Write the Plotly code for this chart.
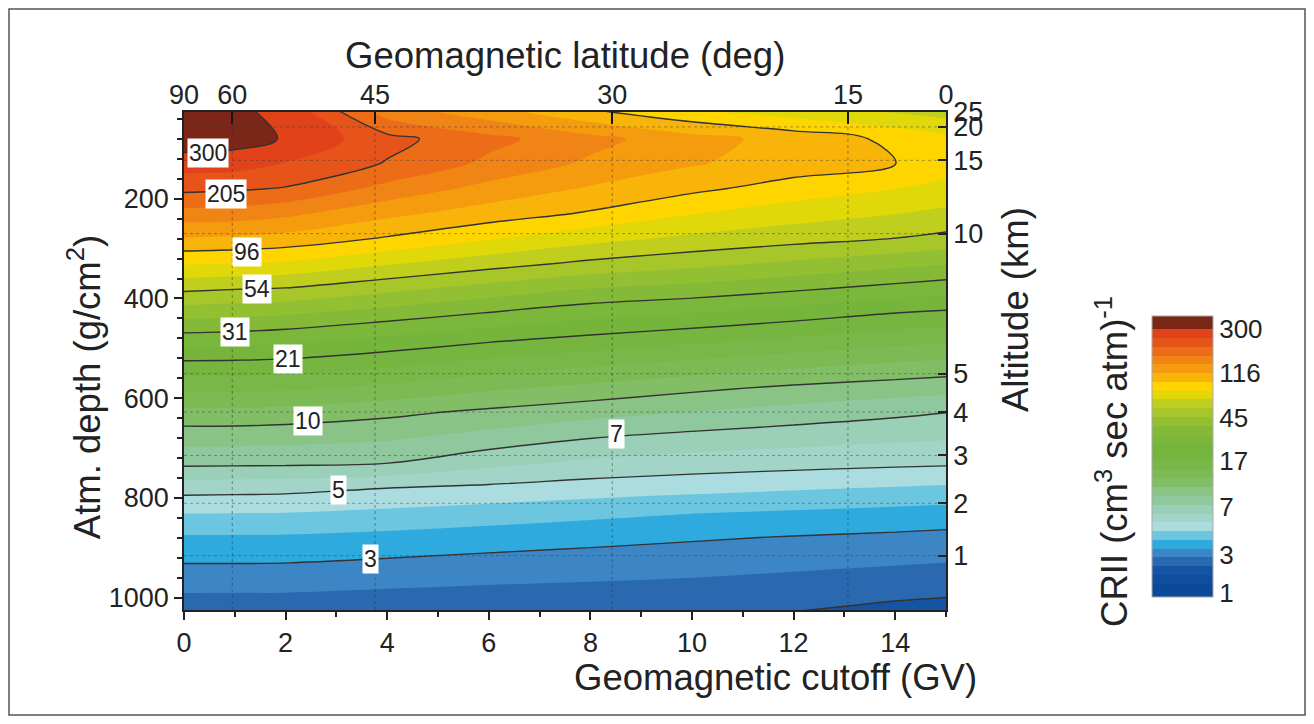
import numpy as np
import plotly.graph_objects as go

# ---------------- data ----------------
cutoff_gv = [0, 1, 2, 4, 6, 8, 10, 12, 14, 15]
depth_gcm2 = [25, 80, 130, 180, 230, 280, 330, 380, 430, 480, 530,
              580, 630, 680, 730, 780, 830, 880, 930, 980, 1030]
crii = [
    [330, 312, 285, 155, 125, 99, 82, 72, 64, 60],
    [345, 330, 295, 218, 180, 150, 125, 108, 92, 84],
    [270, 268, 245, 202, 163, 136, 118, 106, 96.5, 88],
    [215, 210, 202, 160, 132, 113.5, 100, 88.5, 79.5, 74],
    [158, 156, 147, 122, 106, 93.8, 80.0, 71.4, 65.5, 62.4],
    [114, 112, 108, 94.0, 80.5, 69.8, 62.5, 57.8, 53.8, 51.4],
    [80.7, 79.2, 77.1, 66.7, 58.4, 51.9, 47.8, 43.7, 39.8, 38.0],
    [56.4, 54.7, 53.6, 47.7, 42.2, 37.6, 35.2, 32.1, 29.2, 27.9],
    [40.4, 39.6, 38.4, 34.4, 30.6, 27.4, 25.5, 23.2, 20.9, 20.2],
    [28.8, 28.4, 27.5, 24.8, 22.1, 20.2, 18.6, 17.1, 15.8, 15.2],
    [20.3, 20.2, 19.9, 18.3, 16.5, 15.1, 13.9, 12.8, 11.9, 11.5],
    [15.2, 15.1, 14.9, 13.8, 12.4, 11.4, 10.4, 9.64, 9.12, 8.85],
    [11.3, 11.3, 11.1, 10.4, 9.52, 8.80, 8.20, 7.69, 7.23, 6.98],
    [8.93, 8.9, 8.81, 8.49, 7.78, 7.02, 6.61, 6.32, 6.09, 5.98],
    [7.30, 7.26, 7.23, 7.03, 6.19, 5.70, 5.47, 5.31, 5.18, 5.13],
    [5.35, 5.31, 5.27, 5.01, 4.85, 4.67, 4.52, 4.39, 4.26, 4.20],
    [4.32, 4.31, 4.30, 4.17, 4.02, 3.86, 3.72, 3.60, 3.47, 3.40],
    [3.60, 3.60, 3.59, 3.48, 3.33, 3.20, 3.07, 2.96, 2.88, 2.83],
    [3.02, 3.02, 3.01, 2.91, 2.81, 2.73, 2.66, 2.58, 2.49, 2.45],
    [2.54, 2.54, 2.54, 2.47, 2.41, 2.37, 2.32, 2.24, 2.16, 2.13],
    [2.15, 2.14, 2.13, 2.10, 2.07, 2.05, 2.025, 1.99, 1.86, 1.80],
]

# filled band levels (CRII) and the band colours between them
fill_levels = [1.0, 1.29, 1.6, 2.0, 2.45, 3.0, 3.7, 4.3, 5.0, 5.9, 7.0, 8.3,
               10, 12, 14.5, 17.4, 21, 25.7, 31, 37.6, 45.2, 54, 65.3, 79.4,
               96, 116, 141, 170, 205, 248, 300, 370]
band_colors = ["#0b4a9a", "#0f4e9e", "#1454a4", "#2a68b0", "#3d86c6", "#2faadf",
               "#6cc6e0", "#aadce0", "#a2d5c8", "#9acfb8", "#8fc89c", "#89c386",
               "#82be66", "#7cba54", "#78b748", "#75b540", "#76b53c", "#7ab73a",
               "#84ba37", "#93bf32", "#a6c62a", "#c0ce1e", "#e0d808", "#ffd500",
               "#f9b40a", "#f59c0e", "#f08414", "#ec6c18", "#e7541a", "#e2421a",
               "#7c2618"]

line_levels = [2, 3, 5, 7, 10, 21, 31, 54, 96, 205, 300]
label_text = ["300", "205", "96", "54", "31", "21", "10", "7", "5", "3"]
label_x = [0.47, 0.83, 1.24, 1.44, 1.00, 2.05, 2.44, 8.52, 3.05, 3.68]
label_y = [108, 190, 306, 382, 468, 522, 646, 672, 784, 922]

cbar_tick_vals = [1, 2.588, 6.70, 17.33, 44.8, 116.0, 300]
cbar_tick_text = ["1", "3", "7", "17", "45", "116", "300"]

lat_labels = ["90", "60", "45", "30", "15", "0"]
lat_pos_gv = [0.0, 0.95, 3.76, 8.43, 13.07, 15.0]

alt_labels = ["25", "20", "15", "10", "5", "4", "3", "2", "1"]
alt_depth = [26, 56, 123, 270, 551, 628, 715, 811, 916]

# ---------------- transform to band-index space ----------------
lv_log = np.log10(fill_levels)
idx = np.arange(len(fill_levels), dtype=float)
z = np.interp(np.log10(np.array(crii, dtype=float)), lv_log, idx)
nlev = len(fill_levels)

cs = []
for i, c in enumerate(band_colors):
    lo = 0.0 if i == 0 else (i + 0.5) / nlev
    hi = (i + 1.5) / nlev
    cs.append([lo, c])
    cs.append([hi, c])
cs.append([1.0, band_colors[-1]])

cb_ticks = np.interp(np.log10(cbar_tick_vals), lv_log, idx)

FONT = "Liberation Sans, Arial, Helvetica, sans-serif"
W, H = 1298, 708
ML, MT, PW, PH = 176, 104, 762, 498

fig = go.Figure()

fig.add_trace(go.Contour(
    x=cutoff_gv, y=depth_gcm2, z=z,
    autocontour=False,
    contours=dict(start=0, end=nlev - 1, size=1, coloring="fill", showlines=False),
    colorscale=cs, line=dict(width=0), hoverinfo="skip",
    colorbar=dict(x=1.2703, xanchor="left", y=0.308, yanchor="middle",
                  len=281, lenmode="pixels", thickness=61, thicknessmode="pixels",
                  xpad=0, ypad=0, tickvals=list(cb_ticks), ticktext=cbar_tick_text,
                  ticks="", tickfont=dict(size=26, color="#222", family=FONT),
                  outlinewidth=1, outlinecolor="#aaaaaa"),
))

for lv in line_levels:
    k = float(np.interp(np.log10(lv), lv_log, idx))
    fig.add_trace(go.Contour(
        x=cutoff_gv, y=depth_gcm2, z=z, autocontour=False,
        contours=dict(start=k, end=k, size=1, coloring="none", showlabels=False),
        line=dict(color="#333333", width=1.4), showscale=False, hoverinfo="skip",
    ))

# dummy trace to carry the top / right axes
fig.add_trace(go.Scatter(x=[None], y=[None], xaxis="x2", yaxis="y2",
                         showlegend=False, hoverinfo="skip"))

shapes = []
for p in lat_pos_gv[1:-1]:
    shapes.append(dict(type="line", xref="x", yref="paper", x0=p, x1=p, y0=0, y1=1,
                       line=dict(color="rgba(50,50,50,0.5)", width=1, dash="dot"),
                       layer="above"))
for d in alt_depth[1:]:
    shapes.append(dict(type="line", xref="paper", yref="y", x0=0, x1=1, y0=d, y1=d,
                       line=dict(color="rgba(50,50,50,0.42)", width=1, dash="dot"),
                       layer="above"))
# frame round the whole figure
shapes.append(dict(type="rect", xref="paper", yref="paper",
                   x0=(-ML + 1) / PW, x1=(W - ML - 1) / PW,
                   y0=-(H - MT - PH - 1) / PH, y1=(MT - 1) / PH + 1,
                   line=dict(color="#555555", width=1.5)))

annotations = []
for t, lx, ly in zip(label_text, label_x, label_y):
    annotations.append(dict(x=lx, y=ly, xref="x", yref="y", text=t, showarrow=False,
                            bgcolor="white", borderpad=1,
                            font=dict(size=23, color="#222", family=FONT)))
TF = dict(size=36.5, color="#222", family=FONT)
annotations += [
    dict(x=0.5, y=1.114, xref="paper", yref="paper", text="Geomagnetic latitude (deg)",
         showarrow=False, font=TF, xanchor="center", yanchor="middle"),
    dict(x=0.7756, y=-0.1365, xref="paper", yref="paper", text="Geomagnetic cutoff (GV)",
         showarrow=False, font=TF, xanchor="center", yanchor="middle"),
    dict(x=-0.131, y=0.4478, xref="paper", yref="paper", text="Atm. depth (g/cm<sup>2</sup>)",
         showarrow=False, font=TF, textangle=-90, xanchor="center", yanchor="middle"),
    dict(x=1.0906, y=0.6024, xref="paper", yref="paper", text="Altitude (km)",
         showarrow=False, font=TF, textangle=-90, xanchor="center", yanchor="middle"),
    dict(x=1.2178, y=0.2992, xref="paper", yref="paper",
         text="CRII (cm<sup>3</sup> sec atm)<sup>-1</sup>",
         showarrow=False, font=TF, textangle=-90, xanchor="center", yanchor="middle"),
]

TK = dict(size=27, color="#222", family=FONT)
fig.update_layout(
    width=W, height=H, autosize=False,
    margin=dict(l=ML, r=W - ML - PW, t=MT, b=H - MT - PH, autoexpand=False),
    paper_bgcolor="white", plot_bgcolor="white",
    showlegend=False, font=dict(family=FONT, color="#222"),
    xaxis=dict(range=[0, 15], tick0=0, dtick=2, ticks="outside", ticklen=8, tickwidth=1.5,
               tickcolor="#222", showgrid=False, zeroline=False, showline=True,
               linecolor="#222", linewidth=1.5, tickfont=TK,
               minor=dict(dtick=1, ticks="outside", ticklen=5, tickcolor="#222")),
    yaxis=dict(range=[1025, 26], tick0=0, dtick=200, ticks="outside", ticklen=8,
               tickwidth=1.5, tickcolor="#222", showgrid=False, zeroline=False,
               showline=True, linecolor="#222", linewidth=1.5, tickfont=TK,
               minor=dict(tick0=0, dtick=40, ticks="outside", ticklen=5, tickcolor="#222")),
    xaxis2=dict(overlaying="x", side="top", range=[0, 15], tickmode="array",
                tickvals=lat_pos_gv, ticktext=lat_labels, ticks="inside", ticklen=12,
                tickwidth=2, tickcolor="#111", showgrid=False, zeroline=False,
                showline=True, linecolor="#222", linewidth=1.5, tickfont=TK,
                ticklabelstandoff=-5),
    yaxis2=dict(overlaying="y", side="right", range=[1025, 26], tickmode="array",
                tickvals=alt_depth, ticktext=alt_labels, ticks="inside", ticklen=8,
                tickwidth=1.5, tickcolor="#222", showgrid=False, zeroline=False,
                showline=True, linecolor="#222", linewidth=1.5, tickfont=TK),
    shapes=shapes, annotations=annotations,
)

fig.write_html("out.html")
